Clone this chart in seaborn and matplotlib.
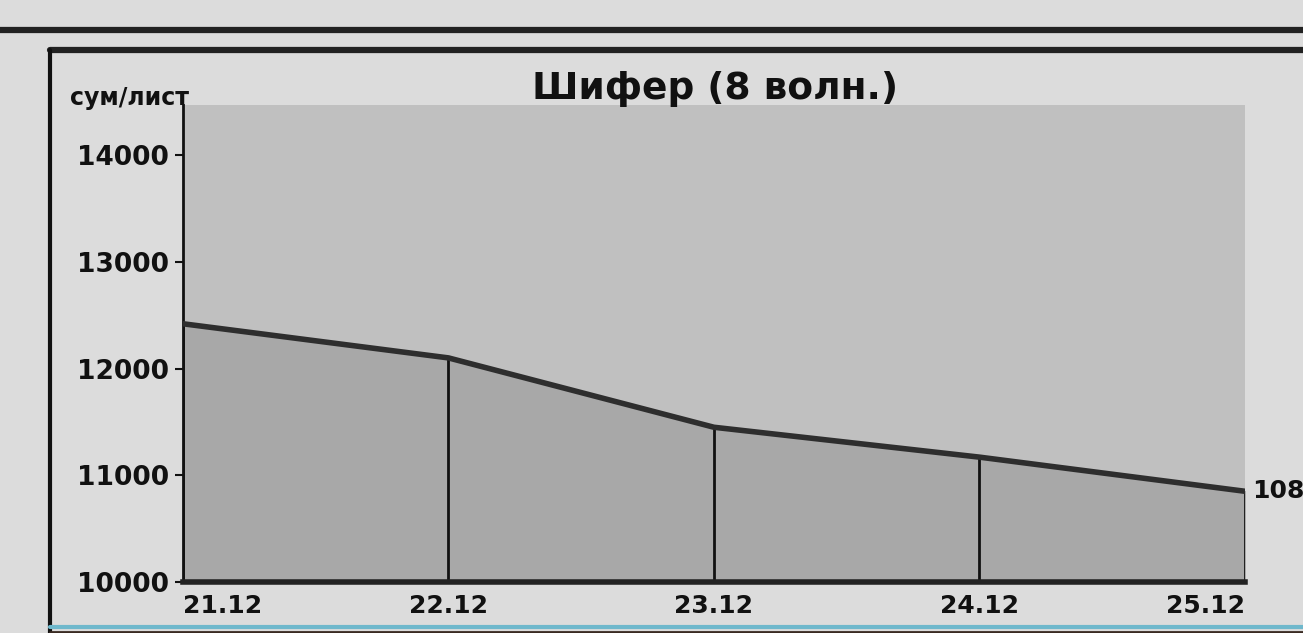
import matplotlib
matplotlib.use("Agg")
import matplotlib.pyplot as plt
from matplotlib.lines import Line2D
import matplotlib.transforms as mtransforms
import seaborn as sns
import numpy as np
import pandas as pd

# Data
dates = ["21.12", "22.12", "23.12", "24.12", "25.12"]
prices = [12420, 12100, 11450, 11170, 10850]
y_ticks = [10000, 11000, 12000, 13000, 14000]
title = "Шифер (8 волн.)"
y_unit = "сум/лист"

sns.set_theme(style="white")
plt.rcParams['font.family'] = ['DejaVu Sans']

fig = plt.figure(figsize=(13.03, 6.33), dpi=100)
fig.patch.set_facecolor("#dcdcdc")
ax = fig.add_axes([0.1404, 0.0806, 0.8151, 0.7535])
ax.set_facecolor("#c0c0c0")

df = pd.DataFrame({"x": np.arange(len(dates)), "price": prices})
ax.fill_between(df["x"], y_ticks[0], df["price"], color="#a8a8a8", zorder=1)
ax.vlines(df["x"], y_ticks[0], df["price"], color="#111111", lw=2, zorder=2)
sns.lineplot(data=df, x="x", y="price", ax=ax, color="#2e2e2e", lw=4, zorder=3)

ax.set_xlim(0, len(dates) - 1)
ax.set_ylim(10000, 14470)
ax.set_yticks(y_ticks)
ax.set_yticklabels([str(v) for v in y_ticks], fontsize=19, fontweight="bold", color="#111111")
ax.set_xticks(df["x"])
ax.set_xticklabels(dates, fontsize=18, fontweight="bold", color="#111111")
labs = ax.get_xticklabels()
labs[0].set_ha("left")
labs[0].set_transform(labs[0].get_transform() + mtransforms.ScaledTranslation(17 / 100, 0, fig.dpi_scale_trans))
labs[1].set_transform(labs[1].get_transform() + mtransforms.ScaledTranslation(10 / 100, 0, fig.dpi_scale_trans))
labs[3].set_transform(labs[3].get_transform() + mtransforms.ScaledTranslation(-6 / 100, 0, fig.dpi_scale_trans))
labs[-1].set_ha("right")
labs[-1].set_transform(labs[-1].get_transform() + mtransforms.ScaledTranslation(-22 / 100, 0, fig.dpi_scale_trans))
ax.tick_params(axis="y", left=True, length=6, width=1.5, color="#111111", pad=4)
ax.tick_params(axis="x", bottom=False, pad=3)
ax.set_xlabel("")
ax.set_ylabel("")

for s in ["top", "right"]:
    ax.spines[s].set_visible(False)
ax.spines["left"].set_color("#111111")
ax.spines["left"].set_linewidth(2)
ax.spines["bottom"].set_color("#222222")
ax.spines["bottom"].set_linewidth(4)

fig.text(0.549, 1 - 99 / 633, title, ha="center", va="baseline", fontsize=27, fontweight="bold", color="#111111")
fig.text(0.054, 1 - 105 / 633, y_unit, ha="left", va="baseline", fontsize=17, fontweight="bold", color="#111111")

ax.annotate(str(prices[-1]), xy=(len(dates) - 1, prices[-1]), xytext=(5, 0), textcoords="offset points",
            ha="left", va="center", fontsize=18, fontweight="bold", color="#111111", annotation_clip=False)

# frame decoration
fig.add_artist(Line2D([0, 1], [1 - 30 / 633, 1 - 30 / 633], color="#222222", lw=4.5))
fig.add_artist(Line2D([50 / 1303, 1], [1 - 50 / 633, 1 - 50 / 633], color="#222222", lw=4.5))
fig.add_artist(Line2D([50 / 1303, 50 / 1303], [0, 1 - 50 / 633], color="#111111", lw=3))
fig.add_artist(Line2D([50 / 1303, 1], [1 - 627 / 633, 1 - 627 / 633], color="#6fb8cc", lw=3))
fig.add_artist(Line2D([50 / 1303, 1], [1 - 632 / 633, 1 - 632 / 633], color="#3a2a22", lw=2))

fig.savefig("out.png", dpi=100, facecolor=fig.get_facecolor())
